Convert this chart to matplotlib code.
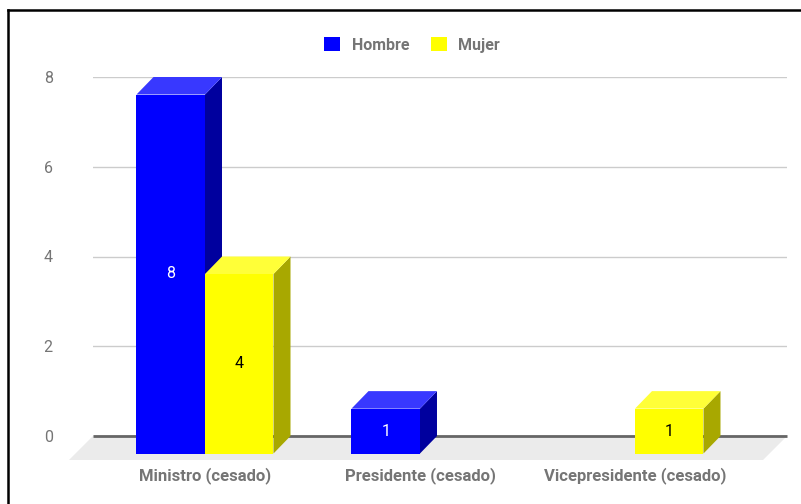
import matplotlib
matplotlib.use('Agg')
from matplotlib import pyplot as plt
from matplotlib.patches import Polygon, Patch
from matplotlib.lines import Line2D

plt.rcParams['font.family'] = ['Roboto', 'DejaVu Sans']

categories = ['Ministro (cesado)', 'Presidente (cesado)', 'Vicepresidente (cesado)']
series = ['Hombre', 'Mujer']
hombre = [8, 1, 0]
mujer = [4, 0, 1]
yticks = [0, 2, 4, 6, 8]

colors = {'Hombre': ('#0000ff', '#3838ff', '#00009e'),
          'Mujer': ('#ffff00', '#ffff38', '#a8a800')}
txtcol = {'Hombre': 'white', 'Mujer': 'black'}
gray = '#757575'

W, H = 801, 504
fig = plt.figure(figsize=(W / 100, H / 100), dpi=100)
# back plane of the chart (pixels: x 93..787, y 77..436)
ax = fig.add_axes([93 / W, (H - 436) / H, (787 - 93) / W, (436 - 77) / H])
ax.set_xlim(-0.6, 2.628)
ax.set_ylim(0, 8)

pxx = (787 - 93) / 3.228   # pixels per category unit
pxy = (436 - 77) / 8.0     # pixels per value unit
ddx = 17 / pxx             # depth of the 3d offset
ddy = 17.5 / pxy
bw = 68.5 / pxx

ax.set_yticks(yticks)
ax.set_yticklabels([str(t) for t in yticks], color=gray, fontsize=11.5)
ax.tick_params(axis='y', length=0, pad=29)
ax.set_xticks([])
ax.yaxis.grid(True, color='#cccccc', lw=1)
ax.set_axisbelow(True)
for s in ax.spines.values():
    s.set_visible(False)

# floor
fdx = 24 / pxx
fdy = 24 / pxy
x0, x1 = ax.get_xlim()
floor = Polygon([(x0, 0), (x1, 0), (x1 - fdx, -fdy), (x0 - fdx, -fdy)],
                closed=True, facecolor='#ebebeb', edgecolor='none',
                clip_on=False, zorder=1)
ax.add_patch(floor)
ax.plot([x0, x1], [0, 0], color='#666666', lw=2, zorder=2, clip_on=False,
        solid_capstyle='butt')

data = {'Hombre': hombre, 'Mujer': mujer}
for i, cat in enumerate(categories):
    for j, name in enumerate(series):
        v = data[name][i]
        if v <= 0:
            continue
        xl = i - bw + j * bw
        xr = xl + bw
        front, top, side = colors[name]
        pf = [(xl - ddx, -ddy), (xr - ddx, -ddy), (xr - ddx, v - ddy), (xl - ddx, v - ddy)]
        pt = [(xl - ddx, v - ddy), (xr - ddx, v - ddy), (xr, v), (xl, v)]
        ps = [(xr - ddx, -ddy), (xr, 0), (xr, v), (xr - ddx, v - ddy)]
        for pts, c in ((ps, side), (pt, top), (pf, front)):
            ax.add_patch(Polygon(pts, closed=True, facecolor=c, edgecolor='none',
                                 clip_on=False, zorder=3))
        ax.text((xl + xr) / 2 - ddx, v / 2 - ddy, str(v), color=txtcol[name],
                fontsize=11.5, ha='center', va='center', zorder=4)
    ax.text(i - ddx, -40 / pxy, cat, color=gray, fontsize=12, fontweight='bold',
            ha='center', va='center')

handles = [Patch(facecolor=colors[n][0], edgecolor='none') for n in series]
leg = fig.legend(handles, series, loc='center', bbox_to_anchor=(412 / W, 1 - 45 / H),
                 ncol=2, frameon=False, handlelength=1.0, handleheight=1.0,
                 handletextpad=0.7, columnspacing=1.35,
                 prop={'size': 11.5, 'weight': 'bold'})
for t in leg.get_texts():
    t.set_color(gray)

# screenshot border (top and left)
fig.add_artist(Line2D([8 / W, 1], [1 - 10 / H, 1 - 10 / H], color='black', lw=1.8))
fig.add_artist(Line2D([8 / W, 8 / W], [0, 1 - 10 / H], color='black', lw=1.8))

fig.savefig('out.png', dpi=100)
